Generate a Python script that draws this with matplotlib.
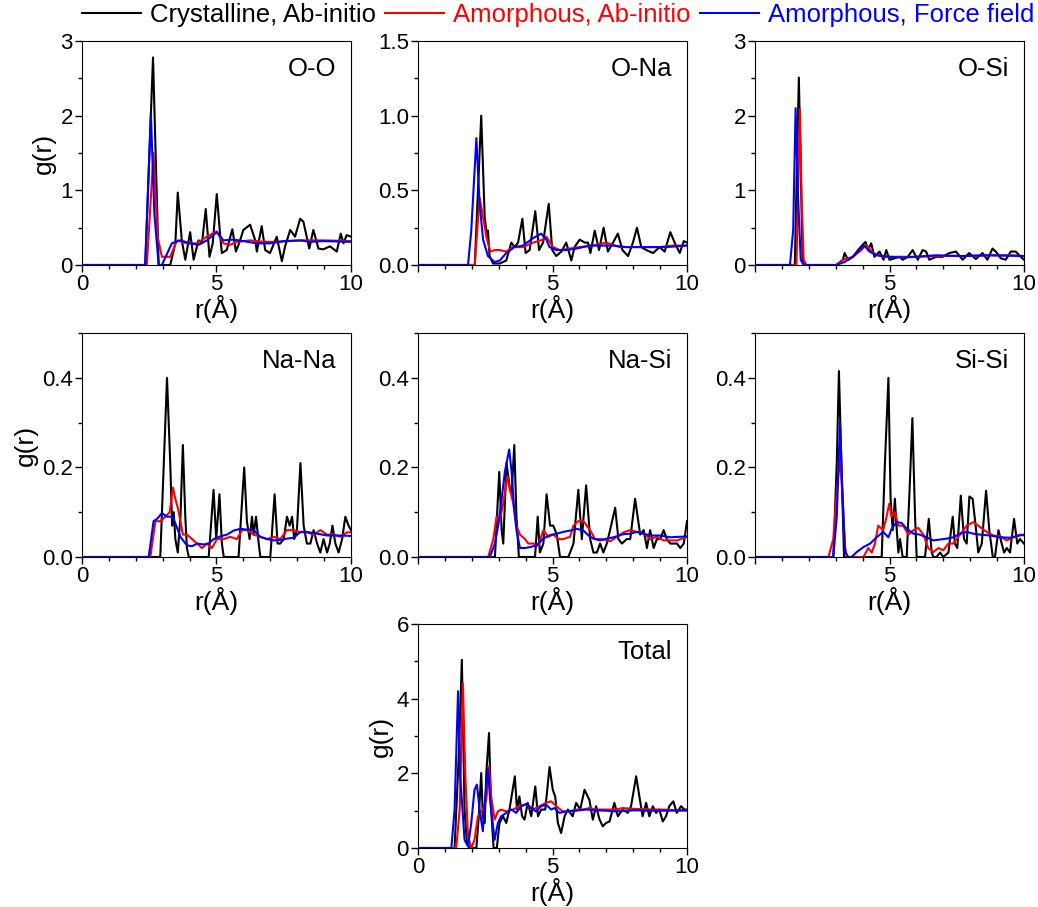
import numpy as np
import matplotlib.pyplot as plt
from matplotlib.ticker import MultipleLocator

plt.rcParams['font.family'] = ['Liberation Sans', 'DejaVu Sans']
plt.rcParams['font.size'] = 16

# ---------- O-O ----------
r_oo_cry = [0, 2.35, 2.64, 2.85, 3.28, 3.47, 3.56, 3.71, 3.84, 4.02, 4.15, 4.33, 4.46, 4.60, 4.74, 4.86, 5.01,
            5.14, 5.20, 5.38, 5.59, 5.72, 5.84, 6.00, 6.25, 6.44, 6.50, 6.68, 6.81, 6.99, 7.24, 7.43, 7.55,
            7.74, 7.92, 8.11, 8.23, 8.45, 8.60, 8.79, 8.97, 9.22, 9.47, 9.62, 9.72, 9.84, 10.0]
g_oo_cry = [0, 0, 2.78, 0, 0, 0.29, 0.97, 0.33, 0.07, 0.44, 0.07, 0.33, 0.29, 0.75, 0.11, 0.29, 0.95,
            0.38, 0.16, 0.20, 0.48, 0.18, 0.29, 0.47, 0.54, 0.33, 0.18, 0.52, 0.20, 0.16, 0.38, 0.05, 0.25,
            0.47, 0.38, 0.62, 0.58, 0.22, 0.47, 0.22, 0.21, 0.25, 0.18, 0.42, 0.29, 0.40, 0.38]
r_oo_am = [0, 2.41, 2.66, 2.81, 2.97, 3.28, 3.53, 3.90, 4.27, 4.64, 5.01, 5.26, 5.51, 5.75, 6.25, 6.75,
           7.24, 8.23, 8.97, 10.0]
g_oo_am = [0, 0, 1.50, 0.38, 0.11, 0.11, 0.33, 0.29, 0.29, 0.38, 0.45, 0.29, 0.27, 0.31, 0.33, 0.31,
           0.31, 0.33, 0.33, 0.32]
r_oo_ff = [0, 2.35, 2.56, 2.69, 2.85, 2.97, 3.34, 3.65, 4.02, 4.33, 4.64, 5.01, 5.26, 5.63, 6.00, 6.50,
           6.99, 7.49, 8.11, 8.48, 8.97, 10.0]
g_oo_ff = [0, 0, 2.03, 0.69, 0, 0, 0.29, 0.33, 0.29, 0.27, 0.33, 0.44, 0.33, 0.34, 0.32, 0.29,
           0.29, 0.32, 0.33, 0.31, 0.32, 0.31]

# ---------- O-Na ----------
r_ona_cry = [0, 2.11, 2.35, 2.48, 2.57, 2.60, 2.66, 2.79, 3.04, 3.28, 3.47, 3.59, 3.72, 3.88, 4.00, 4.15,
             4.36, 4.50, 4.65, 4.86, 4.99, 5.14, 5.33, 5.51, 5.70, 5.82, 6.01, 6.20, 6.32, 6.41, 6.57,
             6.73, 6.90, 7.06, 7.25, 7.43, 7.60, 7.81, 7.99, 8.14, 8.30, 8.49, 8.74, 8.98, 9.17, 9.38,
             9.54, 9.73, 9.88, 10.0]
g_ona_cry = [0, 0, 1.00, 0.32, 0.19, 0.23, 0.06, 0.01, 0.01, 0.03, 0.15, 0.12, 0.15, 0.31, 0.08, 0.10,
             0.36, 0.10, 0.15, 0.41, 0.10, 0.06, 0.09, 0.15, 0.03, 0.12, 0.17, 0.15, 0.15, 0.08, 0.23,
             0.10, 0.25, 0.09, 0.15, 0.21, 0.10, 0.06, 0.15, 0.25, 0.12, 0.10, 0.08, 0.12, 0.09, 0.22,
             0.15, 0.08, 0.16, 0.15]
r_ona_am = [0, 2.11, 2.29, 2.42, 2.54, 2.69, 2.85, 3.04, 3.28, 3.53, 3.90, 4.28, 4.65, 4.77, 5.02, 5.27,
            5.64, 6.01, 6.51, 7.00, 7.50, 7.99, 8.49, 8.98, 9.48, 10.0]
g_ona_am = [0, 0, 0.45, 0.32, 0.19, 0.09, 0.10, 0.10, 0.09, 0.12, 0.12, 0.15, 0.17, 0.19, 0.12, 0.10,
            0.11, 0.12, 0.13, 0.15, 0.12, 0.12, 0.12, 0.12, 0.13, 0.13]
r_ona_ff = [0, 1.86, 1.98, 2.17, 2.29, 2.42, 2.60, 2.85, 3.04, 3.28, 3.59, 3.90, 4.28, 4.58, 4.77, 4.89,
            5.14, 5.51, 5.89, 6.38, 6.75, 7.25, 7.74, 8.24, 8.74, 9.23, 10.0]
g_ona_ff = [0, 0, 0.23, 0.85, 0.41, 0.17, 0.06, 0.02, 0.03, 0.08, 0.12, 0.13, 0.18, 0.21, 0.17, 0.12,
            0.10, 0.10, 0.11, 0.13, 0.13, 0.13, 0.12, 0.12, 0.12, 0.12, 0.13]

# ---------- O-Si ----------
r_osi_cry = [0, 1.48, 1.63, 1.77, 1.85, 3.02, 3.27, 3.33, 3.46, 3.64, 3.83, 3.95, 4.11, 4.20, 4.32, 4.44,
             4.63, 4.78, 4.88, 5.00, 5.19, 5.37, 5.49, 5.68, 5.86, 6.05, 6.23, 6.36, 6.48, 6.73, 6.98,
             7.22, 7.47, 7.72, 7.96, 8.21, 8.46, 8.64, 8.83, 8.95, 9.14, 9.32, 9.51, 9.69, 9.88, 10.0]
g_osi_cry = [0, 0, 2.51, 0.07, 0, 0, 0.07, 0.16, 0.07, 0.11, 0.20, 0.25, 0.31, 0.20, 0.29, 0.11,
             0.18, 0.07, 0.20, 0.07, 0.09, 0.11, 0.07, 0.11, 0.20, 0.07, 0.20, 0.18, 0.07, 0.11, 0.11,
             0.16, 0.18, 0.07, 0.16, 0.08, 0.16, 0.07, 0.22, 0.18, 0.09, 0.07, 0.18, 0.18, 0.11, 0.07]
r_osi_am = [0, 1.54, 1.67, 1.73, 1.81, 1.91, 3.02, 3.27, 3.64, 3.95, 4.14, 4.38, 4.75, 5.25, 5.99, 6.73,
            7.72, 8.70, 9.57, 10.0]
g_osi_am = [0, 0, 2.09, 0.92, 0.07, 0, 0, 0.07, 0.11, 0.20, 0.27, 0.16, 0.11, 0.11, 0.11, 0.12,
            0.12, 0.13, 0.13, 0.12]
r_osi_ff = [0, 1.30, 1.42, 1.51, 1.60, 1.70, 1.81, 3.02, 3.33, 3.64, 3.95, 4.07, 4.26, 4.51, 5.00, 5.49,
            5.99, 6.73, 7.72, 8.70, 10.0]
g_osi_ff = [0, 0, 0.47, 2.10, 0.92, 0.07, 0, 0, 0.04, 0.11, 0.22, 0.26, 0.18, 0.13, 0.11, 0.10,
            0.11, 0.13, 0.12, 0.13, 0.12]

# ---------- Na-Na ----------
r_nana_cry = [0, 2.91, 3.16, 3.28, 3.35, 3.41, 3.47, 3.56, 3.66, 3.75, 3.84, 3.90, 3.97, 4.71, 4.89, 4.99,
              5.11, 5.20, 5.27, 5.82, 6.03, 6.13, 6.23, 6.32, 6.38, 6.47, 6.57, 6.63, 7.00, 7.16, 7.27,
              7.37, 7.50, 7.62, 7.72, 7.81, 7.89, 7.99, 8.12, 8.24, 8.36, 8.49, 8.61, 8.74, 8.86, 8.98,
              9.11, 9.21, 9.31, 9.42, 9.54, 9.67, 9.79, 9.91, 10.0]
g_nana_cry = [0, 0, 0.40, 0.21, 0.07, 0.10, 0.04, 0.01, 0.09, 0.25, 0.09, 0.02, 0, 0, 0.15, 0.04,
              0.14, 0.03, 0, 0, 0.20, 0.08, 0.04, 0.09, 0.05, 0.09, 0.03, 0, 0, 0.14, 0.03,
              0.03, 0.04, 0.09, 0.07, 0.09, 0.04, 0.06, 0.21, 0.07, 0.03, 0.03, 0.06, 0.03, 0.01, 0.04,
              0.01, 0.03, 0.07, 0.03, 0.01, 0.04, 0.09, 0.07, 0.06]
r_nana_am = [0, 2.54, 2.73, 2.91, 3.10, 3.26, 3.38, 3.47, 3.56, 3.66, 3.75, 3.90, 4.09, 4.28, 4.46, 4.65,
             4.83, 5.02, 5.27, 5.51, 5.76, 5.95, 6.13, 6.38, 6.63, 6.88, 7.13, 7.37, 7.62, 7.87, 8.12,
             8.36, 8.61, 8.86, 9.11, 9.36, 9.60, 9.85, 10.0]
g_nana_am = [0, 0, 0.08, 0.08, 0.09, 0.10, 0.155, 0.13, 0.11, 0.08, 0.05, 0.05, 0.04, 0.03, 0.02, 0.03,
             0.02, 0.04, 0.04, 0.045, 0.04, 0.06, 0.06, 0.05, 0.045, 0.04, 0.045, 0.04, 0.06, 0.06, 0.055,
             0.055, 0.05, 0.06, 0.05, 0.05, 0.045, 0.055, 0.055]
r_nana_ff = [0, 2.48, 2.66, 2.79, 2.97, 3.16, 3.35, 3.47, 3.66, 3.90, 4.09, 4.28, 4.52, 4.71, 4.89, 5.14,
             5.39, 5.64, 5.89, 6.13, 6.38, 6.63, 6.88, 7.13, 7.37, 7.62, 7.87, 8.12, 8.36, 8.74, 9.11,
             9.60, 10.0]
g_nana_ff = [0, 0, 0.08, 0.085, 0.098, 0.09, 0.09, 0.075, 0.045, 0.026, 0.024, 0.03, 0.028, 0.03, 0.04, 0.046,
             0.05, 0.059, 0.063, 0.061, 0.06, 0.045, 0.04, 0.037, 0.038, 0.041, 0.043, 0.056, 0.056, 0.052, 0.048,
             0.048, 0.047]

# ---------- Na-Si ----------
r_nasi_cry = [0, 2.86, 3.02, 3.11, 3.17, 3.29, 3.42, 3.48, 3.58, 3.66, 3.75, 4.35, 4.45, 4.53, 4.66, 4.78,
              4.91, 5.03, 5.16, 5.28, 5.59, 5.78, 5.96, 6.09, 6.25, 6.40, 6.52, 6.65, 6.77, 6.89, 7.02,
              7.14, 7.33, 7.45, 7.58, 7.76, 7.89, 8.07, 8.26, 8.39, 8.51, 8.63, 8.76, 8.88, 9.01, 9.13,
              9.25, 9.38, 9.63, 9.75, 9.88, 10.0]
g_nasi_cry = [0, 0, 0.19, 0.06, 0.03, 0.21, 0.15, 0.14, 0.25, 0.09, 0, 0, 0.09, 0.01, 0.03, 0.14,
              0.07, 0.07, 0.05, 0, 0, 0.03, 0.15, 0.04, 0.16, 0.04, 0.01, 0.01, 0.03, 0.01, 0.03,
              0.06, 0.11, 0.04, 0.03, 0.04, 0.04, 0.13, 0.05, 0.06, 0.02, 0.06, 0.02, 0.04, 0.04, 0.06,
              0.04, 0.03, 0.03, 0.02, 0.03, 0.08]
r_nasi_am = [0, 2.61, 2.80, 2.92, 3.04, 3.17, 3.32, 3.42, 3.54, 3.66, 3.79, 3.98, 4.10, 4.29, 4.47, 4.66,
             4.84, 5.03, 5.22, 5.40, 5.65, 5.78, 5.96, 6.15, 6.40, 6.58, 6.83, 7.14, 7.39, 7.64, 7.89,
             8.14, 8.39, 8.63, 8.88, 9.13, 9.63, 10.0]
g_nasi_am = [0, 0, 0.04, 0.09, 0.08, 0.12, 0.18, 0.15, 0.12, 0.07, 0.05, 0.04, 0.03, 0.03, 0.025, 0.06,
             0.045, 0.05, 0.04, 0.04, 0.045, 0.07, 0.08, 0.08, 0.06, 0.04, 0.04, 0.035, 0.045, 0.055, 0.06,
             0.056, 0.052, 0.04, 0.045, 0.037, 0.037, 0.045]
r_nasi_ff = [0, 2.67, 2.86, 2.98, 3.11, 3.23, 3.39, 3.48, 3.57, 3.66, 3.79, 3.98, 4.16, 4.41, 4.66, 4.91,
             5.16, 5.40, 5.65, 5.90, 6.15, 6.34, 6.52, 6.77, 7.02, 7.27, 7.64, 7.89, 8.14, 8.39, 8.63,
             9.01, 9.38, 10.0]
g_nasi_ff = [0, 0, 0.03, 0.07, 0.13, 0.19, 0.24, 0.19, 0.11, 0.06, 0.02, 0.02, 0.022, 0.026, 0.041, 0.049,
             0.052, 0.056, 0.059, 0.063, 0.059, 0.048, 0.041, 0.037, 0.041, 0.044, 0.051, 0.052, 0.056, 0.052, 0.048,
             0.048, 0.044, 0.046]

# ---------- Si-Si ----------
r_sisi_cry = [0, 2.91, 3.04, 3.12, 3.22, 3.31, 4.71, 4.83, 4.96, 5.04, 5.12, 5.20, 5.27, 5.33, 5.39, 5.49,
              5.64, 5.76, 5.85, 5.95, 6.01, 6.32, 6.46, 6.57, 6.63, 6.75, 6.88, 7.00, 7.19, 7.35, 7.43,
              7.52, 7.65, 7.77, 7.87, 7.97, 8.09, 8.22, 8.30, 8.43, 8.59, 8.71, 8.84, 8.92, 9.05, 9.17,
              9.26, 9.36, 9.48, 9.63, 9.75, 9.85, 10.0]
g_sisi_cry = [0, 0, 0.21, 0.415, 0.19, 0, 0, 0.21, 0.40, 0.13, 0.06, 0.13, 0.06, 0.01, 0.04, 0,
              0, 0.17, 0.31, 0.09, 0, 0, 0.085, 0.01, 0, 0, 0.01, 0, 0.01, 0.09, 0.03,
              0.02, 0.137, 0.04, 0.03, 0.135, 0.13, 0.06, 0.01, 0.03, 0.148, 0.06, 0, 0, 0.06, 0.03,
              0.01, 0.02, 0.01, 0.085, 0.03, 0.04, 0.03]
r_sisi_am = [0, 2.73, 2.91, 3.06, 3.16, 3.26, 3.35, 3.43, 4.03, 4.21, 4.34, 4.46, 4.58, 4.77, 4.89, 4.99,
             5.08, 5.20, 5.33, 5.51, 5.70, 5.89, 6.07, 6.26, 6.44, 6.63, 6.82, 7.00, 7.19, 7.37, 7.62,
             7.87, 8.12, 8.36, 8.61, 8.86, 9.11, 9.36, 9.60, 9.85, 10.0]
g_sisi_am = [0, 0, 0.04, 0.16, 0.22, 0.13, 0.02, 0, 0, 0.02, 0.01, 0.03, 0.07, 0.06, 0.09, 0.119,
             0.09, 0.10, 0.07, 0.07, 0.05, 0.06, 0.065, 0.05, 0.02, 0.011, 0.02, 0.015, 0.03, 0.03, 0.05,
             0.07, 0.078, 0.067, 0.056, 0.048, 0.046, 0.037, 0.044, 0.05, 0.048]
r_sisi_ff = [0, 2.91, 3.04, 3.16, 3.26, 3.35, 3.47, 3.59, 3.78, 4.03, 4.28, 4.52, 4.77, 4.96, 5.08, 5.27,
             5.45, 5.64, 5.89, 6.13, 6.38, 6.63, 6.88, 7.13, 7.37, 7.62, 7.87, 8.12, 8.36, 8.74, 9.11,
             9.48, 9.85, 10.0]
g_sisi_ff = [0, 0, 0.09, 0.30, 0.13, 0.01, 0, 0, 0.011, 0.022, 0.03, 0.044, 0.056, 0.044, 0.063, 0.078,
             0.076, 0.063, 0.052, 0.050, 0.044, 0.037, 0.039, 0.041, 0.044, 0.052, 0.056, 0.052, 0.050, 0.048, 0.044,
             0.043, 0.048, 0.050]

# ---------- Total ----------
r_tot_cry = [0, 1.36, 1.52, 1.63, 1.73, 1.82, 1.92, 2.17, 2.26, 2.35, 2.41, 2.48, 2.54, 2.64, 2.72, 2.81,
             2.93, 3.03, 3.16, 3.28, 3.40, 3.60, 3.68, 3.77, 3.87, 3.96, 4.08, 4.21, 4.36, 4.46, 4.58,
             4.73, 4.89, 5.01, 5.10, 5.20, 5.32, 5.45, 5.57, 5.75, 5.88, 6.03, 6.19, 6.37, 6.50, 6.62,
             6.75, 6.87, 6.99, 7.12, 7.30, 7.43, 7.61, 7.80, 7.92, 8.11, 8.23, 8.35, 8.48, 8.60, 8.73,
             8.85, 8.97, 9.10, 9.22, 9.34, 9.49, 9.62, 9.78, 9.90, 10.0]
g_tot_cry = [0, 0, 2.54, 5.04, 1.03, 0.13, 0, 0, 0.85, 2.01, 0.85, 0.67, 2.01, 3.08, 1.03, 0,
             0, 0.67, 0.85, 0.67, 1.03, 1.92, 1.03, 1.38, 0.85, 0.76, 1.21, 0.85, 1.65, 0.85, 1.03,
             1.03, 2.17, 1.56, 1.38, 0.67, 0.40, 0.85, 1.03, 0.85, 1.21, 1.03, 1.56, 1.29, 0.76, 1.12,
             0.76, 0.58, 0.67, 0.71, 1.21, 0.85, 1.03, 0.94, 1.12, 1.92, 1.38, 0.85, 1.21, 0.85, 1.12,
             0.94, 1.03, 0.71, 0.85, 1.12, 1.25, 0.94, 1.12, 1.03, 1.03]
r_tot_am = [0, 1.42, 1.55, 1.67, 1.76, 1.86, 1.98, 2.10, 2.23, 2.41, 2.54, 2.64, 2.72, 2.85, 2.97, 3.09,
            3.28, 3.53, 3.77, 4.02, 4.27, 4.52, 4.76, 4.95, 5.14, 5.38, 5.63, 5.88, 6.13, 6.37, 6.62,
            6.87, 7.12, 7.36, 7.61, 7.98, 8.35, 8.73, 9.10, 9.59, 10.0]
g_tot_am = [0, 0, 1.03, 4.42, 1.92, 0.31, 0, 0.22, 0.85, 1.03, 1.29, 2.19, 1.38, 0.76, 0.98, 1.03,
            0.98, 1.03, 1.12, 1.16, 1.03, 1.12, 1.21, 1.25, 1.12, 0.98, 0.98, 1.03, 1.03, 1.07, 1.03,
            1.03, 1.03, 1.03, 1.07, 1.05, 1.04, 1.03, 1.03, 1.01, 1.00]
r_tot_ff = [0, 1.24, 1.36, 1.49, 1.57, 1.73, 1.86, 1.98, 2.10, 2.19, 2.29, 2.41, 2.50, 2.60, 2.69, 2.85,
            2.97, 3.09, 3.28, 3.47, 3.65, 3.84, 4.02, 4.21, 4.39, 4.58, 4.76, 4.95, 5.07, 5.26, 5.51,
            5.88, 6.25, 6.62, 6.99, 7.36, 7.74, 8.11, 8.48, 8.85, 9.34, 10.0]
g_tot_ff = [0, 0, 1.03, 4.20, 1.92, 0.22, 0.04, 0.67, 1.56, 1.70, 1.03, 0.45, 1.38, 2.12, 1.21, 0.22,
            0.67, 0.85, 0.94, 1.03, 0.94, 1.12, 1.18, 1.07, 0.98, 1.12, 1.16, 1.03, 1.07, 0.94, 0.98,
            1.00, 1.03, 1.01, 1.00, 0.98, 1.00, 1.01, 1.00, 1.00, 1.00, 1.01]

panels = [
    ('O-O', r_oo_cry, g_oo_cry, r_oo_am, g_oo_am, r_oo_ff, g_oo_ff),
    ('O-Na', r_ona_cry, g_ona_cry, r_ona_am, g_ona_am, r_ona_ff, g_ona_ff),
    ('O-Si', r_osi_cry, g_osi_cry, r_osi_am, g_osi_am, r_osi_ff, g_osi_ff),
    ('Na-Na', r_nana_cry, g_nana_cry, r_nana_am, g_nana_am, r_nana_ff, g_nana_ff),
    ('Na-Si', r_nasi_cry, g_nasi_cry, r_nasi_am, g_nasi_am, r_nasi_ff, g_nasi_ff),
    ('Si-Si', r_sisi_cry, g_sisi_cry, r_sisi_am, g_sisi_am, r_sisi_ff, g_sisi_ff),
    ('Total', r_tot_cry, g_tot_cry, r_tot_am, g_tot_am, r_tot_ff, g_tot_ff),
]

# y range, major step, minor step, tick label format
yaxes = {
    'O-O': (3, 1, 0.5, '%d'),
    'O-Na': (1.5, 0.5, 0.25, '%.1f'),
    'O-Si': (3, 1, 0.5, '%d'),
    'Na-Na': (0.5, 0.2, 0.1, '%.1f'),
    'Na-Si': (0.5, 0.2, 0.1, '%.1f'),
    'Si-Si': (0.5, 0.2, 0.1, '%.1f'),
    'Total': (6, 2, 1, '%d'),
}

W, H = 1038, 907
fig = plt.figure(figsize=(W / 100, H / 100), dpi=100)

lefts = [82, 418, 755]
tops = [41, 333, 624]
pw, ph = 269, 224
slots = [(0, 0), (0, 1), (0, 2), (1, 0), (1, 1), (1, 2), (2, 1)]

lines = None
for (name, rc, gc, ra, ga, rf, gf), (row, col) in zip(panels, slots):
    ax = fig.add_axes([lefts[col] / W, 1 - (tops[row] + ph) / H, pw / W, ph / H])
    l1, = ax.plot(rc, gc, color='black', lw=1.5, label='Crystalline, Ab-initio')
    l2, = ax.plot(ra, ga, color='red', lw=1.5, label='Amorphous, Ab-initio')
    l3, = ax.plot(rf, gf, color='blue', lw=1.5, label='Amorphous, Force field')
    lines = [l1, l2, l3]

    ymax, ymaj, ymin, fmt = yaxes[name]
    ax.set_xlim(0, 10)
    ax.set_ylim(0, ymax)
    ax.xaxis.set_minor_locator(MultipleLocator(1))
    ax.yaxis.set_minor_locator(MultipleLocator(ymin))
    yt = np.arange(0, ymax + 1e-9, ymaj)
    ax.set_yticks(yt)
    ax.set_yticklabels([fmt % v for v in yt])
    ax.set_xticks([0, 5, 10])
    if name in ('O-O', 'Na-Na', 'Total'):
        ax.set_xticklabels(['0', '5', '10'])
    else:
        ax.set_xticklabels(['', '5', '10'])
    ax.tick_params(which='major', direction='out', length=5, width=1, labelsize=16, pad=1.5)
    ax.tick_params(which='minor', direction='out', length=3, width=1)
    ax.set_xlabel('r(Å)', fontsize=19, labelpad=0)
    if col == 0 or name == 'Total':
        ax.set_ylabel('g(r)', fontsize=19, labelpad=3)
    ax.text(0.945, 0.875, name, transform=ax.transAxes, ha='right', va='center', fontsize=18.5)

fig.legend(lines, [l.get_label() for l in lines], loc='center', bbox_to_anchor=(558 / W, 1 - 15 / H),
           ncol=3, frameon=False, fontsize=18.5, handlelength=2.3, handletextpad=0.35,
           columnspacing=0.35, labelcolor='linecolor', borderpad=0)

fig.savefig('out.png', dpi=100)
